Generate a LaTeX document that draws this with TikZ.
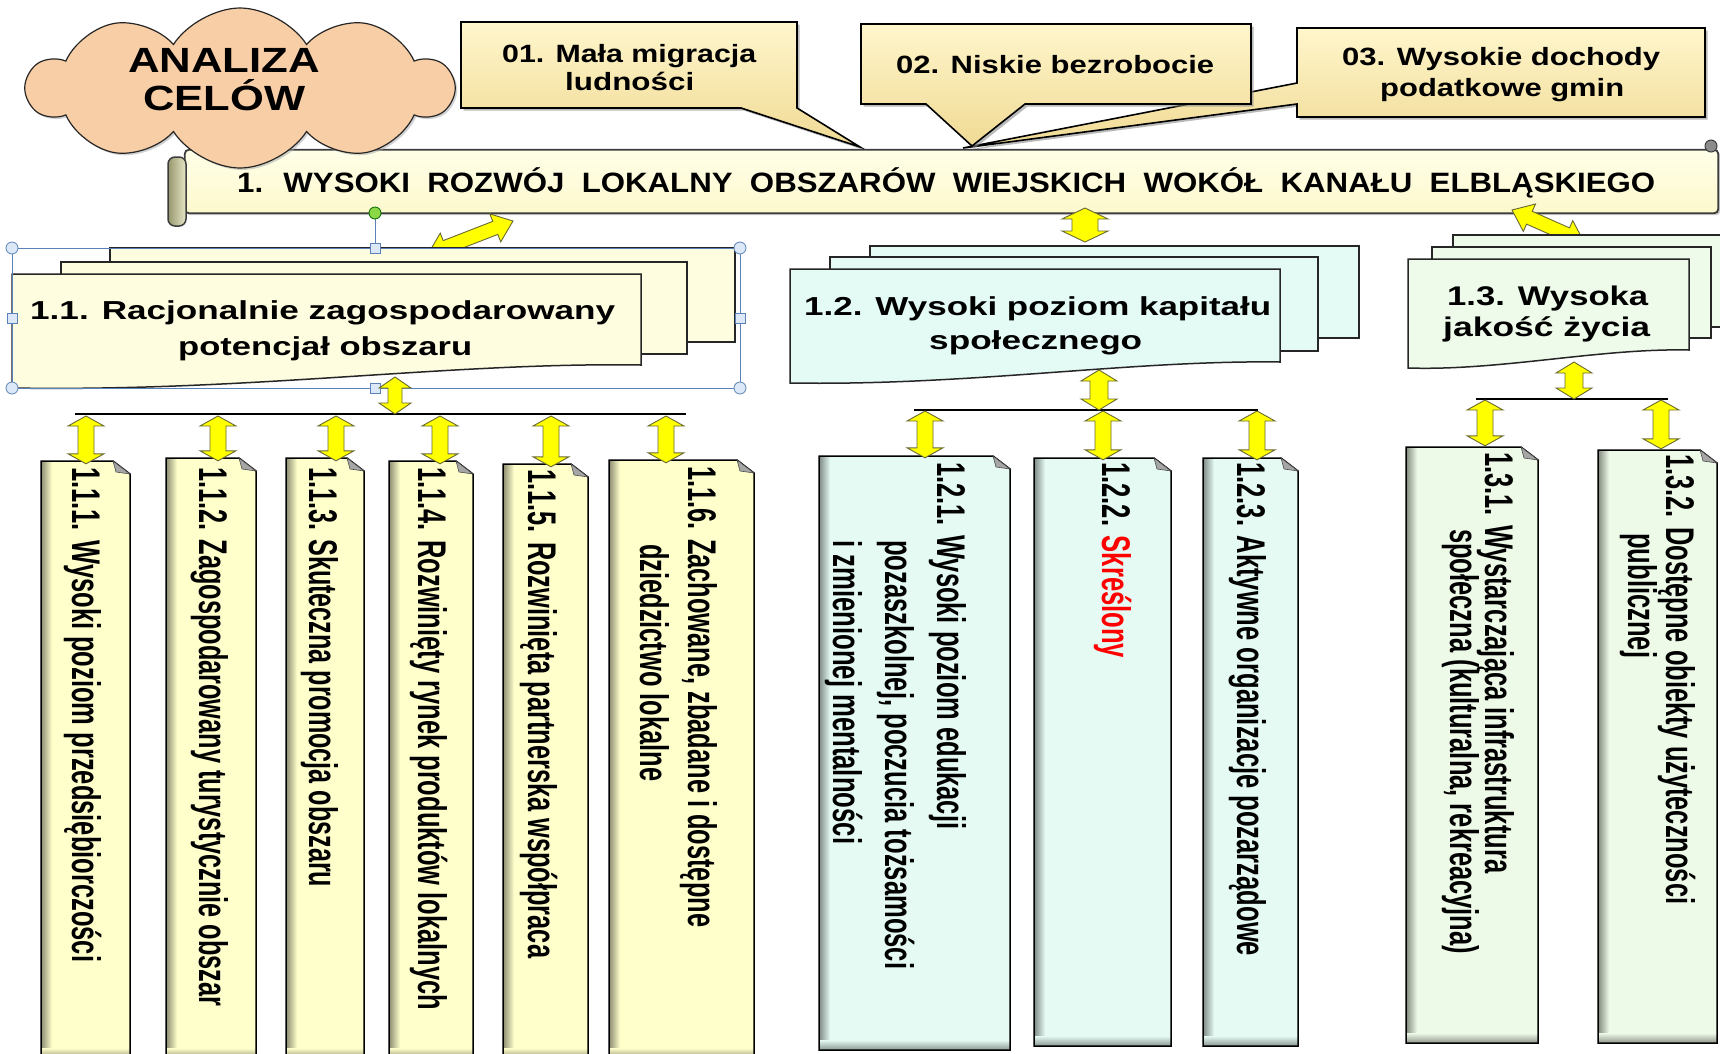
\documentclass[tikz,border=0pt]{standalone}
\usepackage{fontspec}
\setmainfont{Liberation Sans}
\usetikzlibrary{calc,shapes.symbols,shadows}

\definecolor{cloudfill}{RGB}{248,206,166}
\definecolor{callTop}{RGB}{255,246,204}
\definecolor{callBot}{RGB}{240,218,148}
\definecolor{bannerTop}{RGB}{255,255,232}
\definecolor{bannerBot}{RGB}{252,248,205}
\definecolor{rollDark}{RGB}{150,150,110}
\definecolor{rollLight}{RGB}{232,232,200}
\definecolor{gA}{RGB}{255,253,224}
\definecolor{gB}{RGB}{228,250,244}
\definecolor{gC}{RGB}{238,251,234}
\definecolor{cA}{RGB}{255,255,204}
\definecolor{cB}{RGB}{228,250,242}
\definecolor{cC}{RGB}{238,250,232}
\definecolor{arrowYellow}{RGB}{255,255,0}
\definecolor{arrowEdge}{RGB}{105,105,50}
\definecolor{edgeGray}{RGB}{60,60,60}
\definecolor{selBlue}{RGB}{90,130,185}
\definecolor{handleFill}{RGB}{220,232,248}
\definecolor{handleGreen}{RGB}{140,215,70}
\definecolor{redText}{RGB}{255,0,0}

\newlength\fitlen
\newcommand\fitw[3]{{\bfseries\fontsize{#2}{#2}\selectfont\settowidth\fitlen{#3}\pgfmathsetmacro\fitsc{#1/\fitlen}\scalebox{\fitsc}[1]{#3}}}

\def\ahl{11pt}\def\ahw{17pt}\def\asw{8pt}
\tikzset{
  arrowsize/.code args={#1/#2/#3}{\def\ahl{#1}\def\ahw{#2}\def\asw{#3}},
  dbl/.style={to path={
    -- ($(\tikztostart)!\ahl!(\tikztotarget)!\ahw!90:(\tikztotarget)$)
    -- ($(\tikztostart)!\ahl!(\tikztotarget)!\asw!90:(\tikztotarget)$)
    -- ($(\tikztotarget)!\ahl!(\tikztostart)!\asw!-90:(\tikztostart)$)
    -- ($(\tikztotarget)!\ahl!(\tikztostart)!\ahw!-90:(\tikztostart)$)
    -- (\tikztotarget)
    -- ($(\tikztotarget)!\ahl!(\tikztostart)!\ahw!90:(\tikztostart)$)
    -- ($(\tikztotarget)!\ahl!(\tikztostart)!\asw!90:(\tikztostart)$)
    -- ($(\tikztostart)!\ahl!(\tikztotarget)!\asw!-90:(\tikztotarget)$)
    -- ($(\tikztostart)!\ahl!(\tikztotarget)!\ahw!-90:(\tikztotarget)$)
    -- cycle}},
  blockarrow/.style={fill=arrowYellow, draw=arrowEdge, line width=0.9pt, line join=miter},
  callout/.style={top color=callTop, bottom color=callBot, draw=black, line width=1.6pt,
     drop shadow={shadow xshift=2.5pt, shadow yshift=-2.5pt, fill=black!45, opacity=.6}},
  pagestyle/.style={draw=black!85, line width=1.5pt},
  noteedge/.style={draw=black, line width=1.5pt},
  bus/.style={draw=black, line width=2pt},
  htext/.style={anchor=base west, inner sep=0pt},
  vtext/.style={anchor=base west, rotate=-90, inner sep=0pt},
  selline/.style={draw=selBlue, line width=1pt},
  handle/.style={fill=handleFill, draw=selBlue, line width=0.8pt},
}

\newcommand\notebox[6]{%
  \node[minimum width={(#4)-(#2)}, minimum height={(#5)-(#3)}, inner sep=0pt] (#1) at ({((#2)+(#4))/2},{((#3)+(#5))/2}) {};
  \fill[#6] (#2,#3) -- ({#4-17},#3) -- (#4,{#3+13}) -- (#4,#5) -- (#2,#5) -- cycle;
  \shade[left color=#6!55!black, right color=#6] (#2,#3) rectangle ({#2+11},#5);
  \shade[top color=#6, bottom color=#6!60!black] (#2,{#5-10}) rectangle (#4,#5);
  \draw[noteedge] (#2,#3) -- ({#4-17},#3) -- (#4,{#3+13}) -- (#4,#5) -- (#2,#5) -- cycle;
  \filldraw[fill=black!35, draw=black!70, line width=0.6pt] ({#4-17},#3) -- ({#4-14},{#3+11}) -- (#4,{#3+13}) -- cycle;
}

\begin{document}
\begin{tikzpicture}[x=1pt,y=-1pt]
\useasboundingbox (0,0) rectangle (1720,1053);
\clip (0,0) rectangle (1720,1053);
\fill[white] (0,0) rectangle (1720,1053);

% ---------- callouts ----------
\draw[callout] (1297,28) -- (1705,28) -- (1705,117) -- (1297,117) -- (1297,104) -- (963,148) -- (1297,83) -- cycle;
\node[htext] (c03a) at (1342,65) {\fitw{318}{25}{03. Wysokie dochody}};
\node[htext] (c03b) at (1380,96) {\fitw{244}{25}{podatkowe gmin}};

\draw[callout] (861,24) -- (1251,24) -- (1251,104) -- (1025,104) -- (972,146) -- (926,104) -- (861,104) -- cycle;
\node[htext] (c02) at (896,73) {\fitw{318}{25}{02. Niskie bezrobocie}};

\draw[callout] (461,22) -- (797,22) -- (797,108) -- (860,147) -- (741,108) -- (461,108) -- cycle;
\node[htext] (c01a) at (502,62) {\fitw{254}{25}{01. Mała migracja}};
\node[htext] (c01b) at (565,90) {\fitw{129}{25}{ludności}};

% ---------- banner ----------
\node[minimum width=1533pt, minimum height=63pt, inner sep=0pt] (banner) at (951.5,181.5) {};
\draw[top color=bannerTop, bottom color=bannerBot, draw=edgeGray, line width=1.8pt, rounded corners=4pt,
  drop shadow={shadow xshift=2pt, shadow yshift=-2pt, fill=black!40, opacity=.5}]
  (banner.north west) rectangle (banner.south east);
\filldraw[fill=black!45, draw=edgeGray, line width=1pt] (1711,146) circle (6);
\draw[left color=rollDark, right color=rollLight, draw=edgeGray, line width=1.5pt, rounded corners=7pt] (168,157) rectangle (186,226);
\node[htext] (t1) at (237,192) {\fitw{1418}{28}{1.~ WYSOKI~ ROZWÓJ~ LOKALNY~ OBSZARÓW~ WIEJSKICH~ WOKÓŁ~ KANAŁU~ ELBLĄSKIEGO}};

% ---------- cloud ----------
\node[cloud, cloud puffs=10, cloud puff arc=115, cloud ignores aspect, minimum width=425pt, minimum height=160pt,
  draw=black!85, line width=1.2pt, fill=cloudfill, inner sep=0pt,
  drop shadow={shadow xshift=2pt, shadow yshift=-2pt, fill=black!35, opacity=.5}] (cloud) at (240,88) {};
\node[htext] (cl1) at (128,72) {\fitw{192}{35}{ANALIZA}};
\node[htext] (cl2) at (143,110) {\fitw{162}{35}{CELÓW}};

% ---------- arrows banner -> groups (behind pages) ----------
\coordinate (a11b) at (428,254); \coordinate (a11t) at (513,221);
\draw[blockarrow, arrowsize={19pt/15pt/7pt}] (a11b) to[dbl] (a11t);
\coordinate (a12t) at (1085,208); \coordinate (a12b) at (1085,242);
\draw[blockarrow, arrowsize={11pt/23pt/13pt}] (a12t) to[dbl] (a12b);
\coordinate (a13t) at (1512,210); \coordinate (a13b) at (1584,242);
\draw[blockarrow, arrowsize={19pt/15pt/7pt}] (a13t) to[dbl] (a13b);

% ---------- group 1.1 ----------
\draw[pagestyle, fill=gA] (110,248) rectangle (735,342);
\draw[pagestyle, fill=gA] (61,262) rectangle (687,354);
\node[minimum width=629pt, minimum height=114pt, inner sep=0pt] (g11) at (326.5,331) {};
\draw[pagestyle, fill=gA] (12,274) -- (641,274) -- (641,365) .. controls (450,362) and (250,392) .. (12,388) -- cycle;
\node[htext] (g11a) at (30,319) {\fitw{585}{26}{1.1. Racjonalnie zagospodarowany}};
\node[htext] (g11b) at (178,355) {\fitw{294}{26}{potencjał obszaru}};

% ---------- group 1.2 ----------
\draw[pagestyle, fill=gB] (870,246) rectangle (1359,338);
\draw[pagestyle, fill=gB] (830,257) rectangle (1318,351);
\node[minimum width=490pt, minimum height=114pt, inner sep=0pt] (g12) at (1035,326) {};
\draw[pagestyle, fill=gB] (790,269) -- (1280,269) -- (1280,362) .. controls (1130,360) and (970,386) .. (790,383) -- cycle;
\node[htext] (g12a) at (804,315) {\fitw{467}{26}{1.2. Wysoki poziom kapitału}};
\node[htext] (g12b) at (929,349) {\fitw{213}{26}{społecznego}};

% ---------- group 1.3 ----------
\draw[pagestyle, fill=gC] (1453,235) rectangle (1740,327);
\draw[pagestyle, fill=gC] (1432,247) rectangle (1711,338);
\node[minimum width=281pt, minimum height=109pt, inner sep=0pt] (g13) at (1548.5,313.5) {};
\draw[pagestyle, fill=gC] (1408,259) -- (1689,259) -- (1689,350) .. controls (1600,348) and (1500,371) .. (1408,368) -- cycle;
\node[htext] (g13a) at (1447,305) {\fitw{201}{27}{1.3. Wysoka}};
\node[htext] (g13b) at (1443,336) {\fitw{207}{27}{jakość życia}};

% ---------- selection handles on group 1.1 ----------
\draw[selline] (12,248) rectangle (740,388);
\draw[selline] (375,213) -- (375,248);
\filldraw[fill=handleGreen, draw=green!40!black, line width=0.8pt] (375,213) circle (6);
\foreach \hx/\hy in {12/248,740/248,12/388,740/388} \filldraw[handle] (\hx,\hy) circle (6);
\foreach \hx/\hy in {375/248,375/388,12/318,740/318} \filldraw[handle] ({\hx-5},{\hy-5}) rectangle ({\hx+5},{\hy+5});

% ---------- buses ----------
\coordinate (bus11w) at (75,414); \coordinate (bus11e) at (686,414);
\coordinate (bus12w) at (914,410); \coordinate (bus12e) at (1258,410);
\coordinate (bus13w) at (1476,399); \coordinate (bus13e) at (1668,399);
\draw[bus] (bus11w) -- (bus11e);
\draw[bus] (bus12w) -- (bus12e);
\draw[bus] (bus13w) -- (bus13e);

% ---------- group -> bus arrows ----------
\coordinate (d11t) at (395,377); \coordinate (d11b) at (395,414);
\draw[blockarrow, arrowsize={11pt/16pt/7pt}] (d11t) to[dbl] (d11b);
\coordinate (d12t) at (1099,370); \coordinate (d12b) at (1099,410);
\draw[blockarrow, arrowsize={11pt/18pt/9pt}] (d12t) to[dbl] (d12b);
\coordinate (d13t) at (1574,362); \coordinate (d13b) at (1574,399);
\draw[blockarrow, arrowsize={11pt/18pt/9pt}] (d13t) to[dbl] (d13b);

% ---------- child boxes ----------
\notebox{b111}{41}{461}{130}{1058}{cA}
\notebox{b112}{166}{458}{256}{1058}{cA}
\notebox{b113}{286}{458}{364}{1058}{cA}
\notebox{b114}{389}{461}{473}{1058}{cA}
\notebox{b115}{503}{464}{588}{1058}{cA}
\notebox{b116}{609}{460}{754}{1058}{cA}
\notebox{b121}{819}{456}{1010}{1050}{cB}
\notebox{b122}{1034}{458}{1171}{1046}{cB}
\notebox{b123}{1203}{458}{1298}{1046}{cB}
\notebox{b131}{1406}{447}{1538}{1043}{cC}
\notebox{b132}{1598}{450}{1717}{1043}{cC}

% ---------- bus -> child arrows ----------
\foreach \n/\x in {111/86,112/218,113/336,114/440,115/551,116/666}{
  \coordinate (k\n) at (\x,416);
  \coordinate (e\n) at ($(k\n |- b\n.north)+(0,3)$);
  \draw[blockarrow, arrowsize={10pt/18pt/8pt}] (k\n) to[dbl] (e\n);
}
\foreach \n/\x in {121/925,122/1103,123/1257}{
  \coordinate (k\n) at (\x,411);
  \coordinate (e\n) at ($(k\n |- b\n.north)+(0,2)$);
  \draw[blockarrow, arrowsize={10pt/18pt/8pt}] (k\n) to[dbl] (e\n);
}
\foreach \n/\x in {131/1485,132/1661}{
  \coordinate (k\n) at (\x,400);
  \coordinate (e\n) at ($(k\n |- b\n.north)+(0,-1)$);
  \draw[blockarrow, arrowsize={10pt/18pt/8pt}] (k\n) to[dbl] (e\n);
}

% ---------- vertical texts ----------
\node[vtext] (t111) at (72,467) {\fitw{495}{40}{1.1.1. Wysoki poziom przedsiębiorczości}};
\node[vtext] (t112) at (199,467) {\fitw{539}{40}{1.1.2. Zagospodarowany turystycznie obszar}};
\node[vtext] (t113) at (309,467) {\fitw{420}{40}{1.1.3. Skuteczna promocja obszaru}};
\node[vtext] (t114) at (418,467) {\fitw{543}{40}{1.1.4. Rozwinięty rynek produktów lokalnych}};
\node[vtext] (t115) at (528,469) {\fitw{489}{40}{1.1.5. Rozwinięta partnerska współpraca}};
\node[vtext] (t116a) at (688,466) {\fitw{461}{40}{1.1.6. Zachowane, zbadane i dostępne}};
\node[vtext] (t116b) at (640,544) {\fitw{237}{40}{dziedzictwo lokalne}};
\node[vtext] (t121a) at (937,462) {\fitw{367}{40}{1.2.1. Wysoki poziom edukacji}};
\node[vtext] (t121b) at (885,540) {\fitw{429}{40}{pozaszkolnej, poczucia tożsamości}};
\node[vtext] (t121c) at (833,540) {\fitw{304}{40}{i zmienionej mentalności}};
\node[vtext] (t122) at (1102,462) {\fitw{196}{40}{1.2.2. \textcolor{redText}{Skreślony}}};
\node[vtext] (t123) at (1237,462) {\fitw{494}{40}{1.2.3. Aktywne organizacje pozarządowe}};
\node[vtext] (t131a) at (1485,452) {\fitw{421}{40}{1.3.1. Wystarczająca infrastruktura}};
\node[vtext] (t131b) at (1450,529) {\fitw{425}{40}{społeczna (kulturalna, rekreacyjna)}};
\node[vtext] (t132a) at (1666,454) {\fitw{450}{40}{1.3.2. Dostępne obiekty użyteczności}};
\node[vtext] (t132b) at (1628,533) {\fitw{125}{40}{publicznej}};
\end{tikzpicture}
\end{document}
